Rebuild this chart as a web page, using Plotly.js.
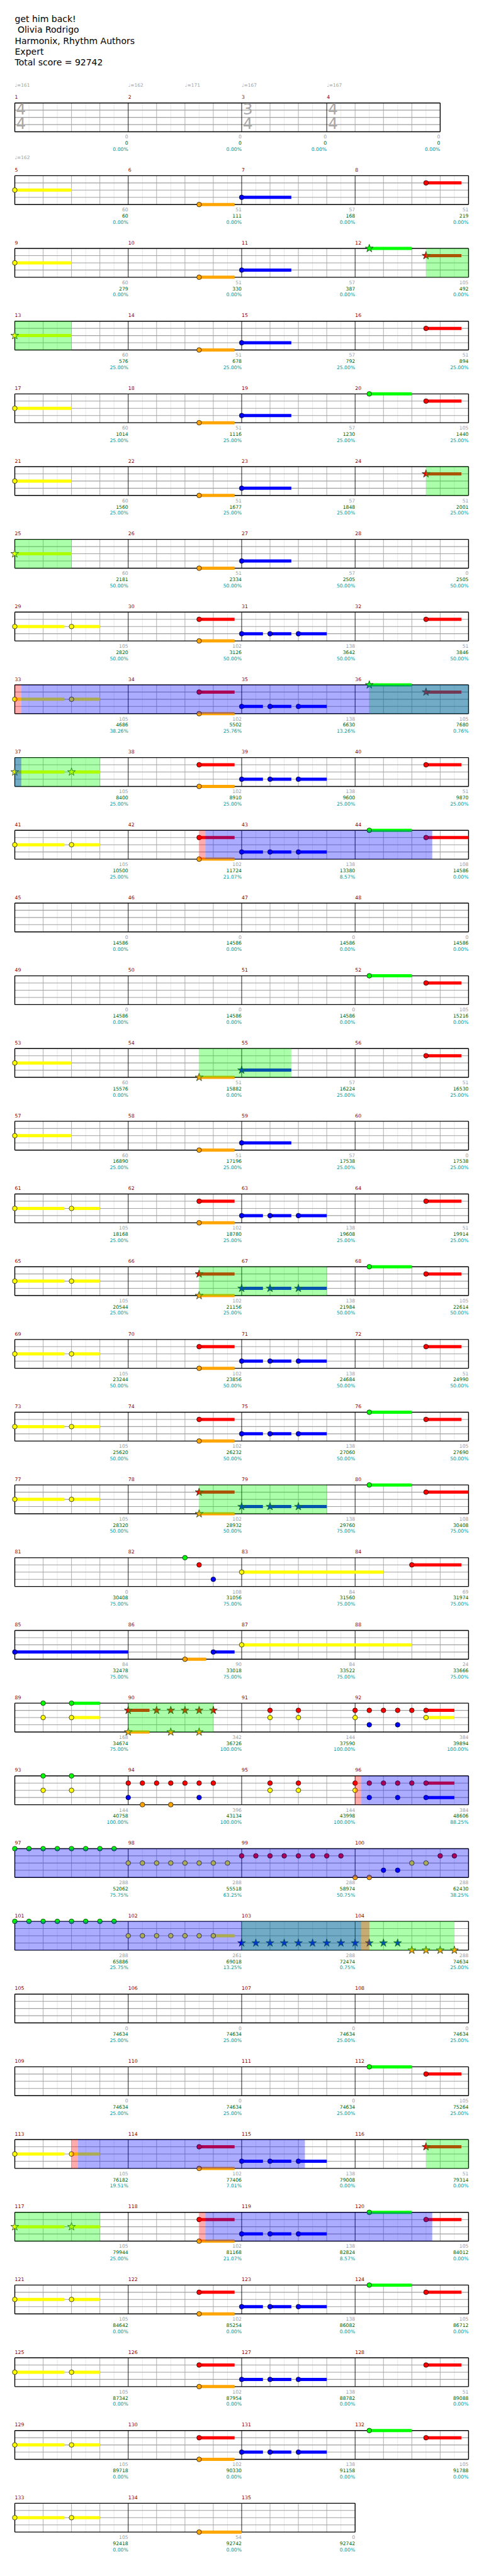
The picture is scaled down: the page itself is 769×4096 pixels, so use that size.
<!DOCTYPE html>
<html><head><meta charset="utf-8">
<script src="https://cdn.plot.ly/plotly-3.0.1.min.js"></script>
<style>html,body{margin:0;padding:0;background:#fff;overflow:hidden}#chart{width:769px;height:4096px}</style>
</head><body><div id="chart"></div>
<script>
// ---------------- DATA ----------------
const titleLines = ["get him back!", " Olivia Rodrigo", "Harmonix, Rhythm Authors", "Expert", "Total score = 92742"];
const measureCount = 135;
// [measure, numerator, denominator]
const timeSigs = [[1,4,4],[3,3,4],[4,4,4]];
// [measure, beat, bpm]
const tempos = [[1,0,161],[2,0,162],[2,2,171],[3,0,167],[4,0,167],[5,0,162]];
const laneNames = ["green","red","yellow","blue","orange"];
const measureScores = [
0,0,0,0, 60,51,57,51, 60,51,57,105, 60,51,57,51, 60,51,57,105, 60,51,57,51, 60,51,57,0,
105,102,138,51, 105,102,138,105, 105,102,138,51, 105,102,138,108, 0,0,0,0, 0,0,0,105,
60,51,57,51, 60,51,57,0, 105,102,138,51, 105,102,138,105, 105,102,138,51, 105,102,138,105,
105,102,138,108, 0,108,84,69, 84,90,84,24, 168,342,144,384, 144,396,144,384, 288,288,288,288,
288,261,288,288, 0,0,0,0, 0,0,0,105, 105,102,138,51, 105,102,138,105, 105,102,138,105,
105,102,138,51, 105,102,138,105, 105,54,0];
const totalScores = [
0,0,0,0, 60,111,168,219, 279,330,387,492, 576,678,792,894, 1014,1116,1230,1440,
1560,1677,1848,2001, 2181,2334,2505,2505, 2820,3126,3642,3846, 4686,5502,6630,7680,
8400,8910,9600,9870, 10500,11724,13380,14586, 14586,14586,14586,14586, 14586,14586,14586,15216,
15576,15882,16224,16530, 16890,17196,17538,17538, 18168,18780,19608,19914, 20544,21156,21984,22614,
23244,23856,24684,24990, 25620,26232,27060,27690, 28320,28932,29760,30408, 30408,31056,31560,31974,
32478,33018,33522,33666, 34674,36726,37590,39894, 40758,43134,43998,48606, 52062,55518,58974,62430,
65886,69018,72474,74634, 74634,74634,74634,74634, 74634,74634,74634,75264, 76182,77406,79008,79314,
79944,81168,82824,84012, 84642,85254,86082,86712, 87342,87954,88782,89088, 89718,90330,91158,91788,
92418,92742,92742];
const percents = [
0,0,0,0, 0,0,0,0, 0,0,0,0, 25,25,25,25, 25,25,25,25, 25,25,25,25, 50,50,50,50,
50,50,50,50, 38.26,25.76,13.26,0.76, 25,25,25,25, 25,21.07,8.57,0, 0,0,0,0, 0,0,0,0,
0,0,25,25, 25,25,25,25, 25,25,25,25, 25,25,50,50, 50,50,50,50, 50,50,50,50,
50,50,75,75, 75,75,75,75, 75,75,75,75, 75,100,100,100, 100,100,100,88.25, 75.75,63.25,50.75,38.25,
25.75,13.25,0.75,25, 25,25,25,25, 25,25,25,25, 19.51,7.01,0,0, 25,21.07,8.57,0,
0,0,0,0, 0,0,0,0, 0,0,0,0, 0,0,0];
// notes: [measure, beat, lane(0 G,1 R,2 Y,3 B,4 O), sustain beats, star-power note]
const notes = [
[5,0,2,2,0],[6,2.5,4,1.25,0],[7,0,3,1.75,0],[8,2.5,1,1.25,0],
[9,0,2,2,0],[10,2.5,4,1.25,0],[11,0,3,1.75,0],[12,0.5,0,1.5,1],[12,2.5,1,1.25,1],
[13,0,2,2,1],[14,2.5,4,1.25,0],[15,0,3,1.75,0],[16,2.5,1,1.25,0],
[17,0,2,2,0],[18,2.5,4,1.25,0],[19,0,3,1.75,0],[20,0.5,0,1.5,0],[20,2.5,1,1.25,0],
[21,0,2,2,0],[22,2.5,4,1.25,0],[23,0,3,1.75,0],[24,2.5,1,1.25,1],
[25,0,2,2,1],[26,2.5,4,1.25,0],[27,0,3,1.75,0],
[29,0,2,1.75,0],[29,2,2,1,0],[30,2.5,1,1.25,0],[30,2.5,4,1.25,0],[31,0,3,0.75,0],[31,1,3,0.75,0],[31,2,3,1,0],[32,2.5,1,1.25,0],
[33,0,2,1.75,0],[33,2,2,1,0],[34,2.5,1,1.25,0],[34,2.5,4,1.25,0],[35,0,3,0.75,0],[35,1,3,0.75,0],[35,2,3,1,0],[36,0.5,0,1.5,1],[36,2.5,1,1.25,1],
[37,0,2,1.75,1],[37,2,2,1,1],[38,2.5,1,1.25,0],[38,2.5,4,1.25,0],[39,0,3,0.75,0],[39,1,3,0.75,0],[39,2,3,1,0],[40,2.5,1,1.25,0],
[41,0,2,1.75,0],[41,2,2,1,0],[42,2.5,1,1.25,0],[42,2.5,4,1.25,0],[43,0,3,0.75,0],[43,1,3,0.75,0],[43,2,3,1,0],[44,0.5,0,1.5,0],[44,2.5,1,1.5,0],
[52,0.5,0,1.5,0],[52,2.5,1,1.25,0],
[53,0,2,2,0],[54,2.5,4,1.25,1],[55,0,3,1.75,1],[56,2.5,1,1.25,0],
[57,0,2,2,0],[58,2.5,4,1.25,0],[59,0,3,1.75,0],
[61,0,2,1.75,0],[61,2,2,1,0],[62,2.5,1,1.25,0],[62,2.5,4,1.25,0],[63,0,3,0.75,0],[63,1,3,0.75,0],[63,2,3,1,0],[64,2.5,1,1.25,0],
[65,0,2,1.75,0],[65,2,2,1,0],[66,2.5,1,1.25,1],[66,2.5,4,1.25,1],[67,0,3,0.75,1],[67,1,3,0.75,1],[67,2,3,1,1],[68,0.5,0,1.5,0],[68,2.5,1,1.25,0],
[69,0,2,1.75,0],[69,2,2,1,0],[70,2.5,1,1.25,0],[70,2.5,4,1.25,0],[71,0,3,0.75,0],[71,1,3,0.75,0],[71,2,3,1,0],[72,2.5,1,1.25,0],
[73,0,2,1.75,0],[73,2,2,1,0],[74,2.5,1,1.25,0],[74,2.5,4,1.25,0],[75,0,3,0.75,0],[75,1,3,0.75,0],[75,2,3,1,0],[76,0.5,0,1.5,0],[76,2.5,1,1.25,0],
[77,0,2,1.75,0],[77,2,2,1,0],[78,2.5,1,1.25,1],[78,2.5,4,1.25,1],[79,0,3,0.75,1],[79,1,3,0.75,1],[79,2,3,1,1],[80,0.5,0,1.5,0],[80,2.5,1,1.5,0],
[82,2,0,0,0],[82,2.5,1,0,0],[82,3,3,0,0],[83,0,2,5,0],[84,2,1,1.75,0],
[85,0,3,4,0],[86,2,4,0.75,0],[86,3,3,0.75,0],[87,0,2,6,0],
[89,1,0,0,0],[89,1,2,0,0],[89,2,0,1,0],[89,2,2,1,0],
[90,0,1,0.75,1],[90,0,4,0.75,1],[90,1,1,0,1],[90,1.5,1,0,1],[90,1.5,4,0,1],[90,2,1,0,1],[90,2.5,1,0,1],[90,2.5,4,0,1],[90,3,1,0,1],
[91,1,1,0,0],[91,1,2,0,0],[91,2,1,0,0],[91,2,2,0,0],
[92,0,1,0,0],[92,0,2,0,0],[92,0.5,1,0,0],[92,0.5,3,0,0],[92,1,1,0,0],[92,1.5,1,0,0],[92,1.5,3,0,0],[92,2,1,0,0],[92,2.5,1,1,0],[92,2.5,2,1,0],
[93,1,0,0,0],[93,1,2,0,0],[93,2,0,0,0],[93,2,2,0,0],
[94,0,1,0,0],[94,0,3,0,0],[94,0.5,1,0,0],[94,0.5,4,0,0],[94,1,1,0,0],[94,1.5,1,0,0],[94,1.5,4,0,0],[94,2,1,0,0],[94,2.5,1,0,0],[94,2.5,3,0,0],[94,3,1,0,0],
[95,1,1,0,0],[95,1,2,0,0],[95,2,1,0,0],[95,2,2,0,0],
[96,0,1,0,0],[96,0,2,0,0],[96,0.5,1,0,0],[96,0.5,3,0,0],[96,1,1,0,0],[96,1.5,1,0,0],[96,1.5,3,0,0],[96,2,1,0,0],[96,2.5,1,1,0],[96,2.5,3,1,0],
[97,0,0,0,0],[97,0.5,0,0,0],[97,1,0,0,0],[97,1.5,0,0,0],[97,2,0,0,0],[97,2.5,0,0,0],[97,3,0,0,0],[97,3.5,0,0,0],
[98,0,2,0,0],[98,0.5,2,0,0],[98,1,2,0,0],[98,1.5,2,0,0],[98,2,2,0,0],[98,2.5,2,0,0],[98,3,2,0,0],[98,3.5,2,0,0],
[99,0,1,0,0],[99,0.5,1,0,0],[99,1,1,0,0],[99,1.5,1,0,0],[99,2,1,0,0],[99,2.5,1,0,0],[99,3,1,0,0],[99,3.5,1,0,0],
[100,0,4,0,0],[100,0.5,4,0,0],[100,1,3,0,0],[100,1.5,3,0,0],[100,2,2,0,0],[100,2.5,2,0,0],[100,3,1,0,0],[100,3.5,1,0,0],
[101,0,0,0,0],[101,0.5,0,0,0],[101,1,0,0,0],[101,1.5,0,0,0],[101,2,0,0,0],[101,2.5,0,0,0],[101,3,0,0,0],[101,3.5,0,0,0],
[102,0,2,0,0],[102,0.5,2,0,0],[102,1,2,0,0],[102,1.5,2,0,0],[102,2,2,0,0],[102,2.5,2,0,0],[102,3,2,0.75,0],
[103,0,3,0,1],[103,0.5,3,0,1],[103,1,3,0,1],[103,1.5,3,0,1],[103,2,3,0,1],[103,2.5,3,0,1],[103,3,3,0,1],[103,3.5,3,0,1],
[104,0,3,0,1],[104,0.5,3,0,1],[104,1,3,0,1],[104,1.5,3,0,1],[104,2,4,0,1],[104,2.5,4,0,1],[104,3,4,0,1],[104,3.5,4,0,1],
[112,0.5,0,1.5,0],[112,2.5,1,1.25,0],
[113,0,2,1.75,0],[113,2,2,1,0],[114,2.5,1,1.25,0],[114,2.5,4,1.25,0],[115,0,3,0.75,0],[115,1,3,0.75,0],[115,2,3,1,0],[116,2.5,1,1.25,1],
[117,0,2,1.75,1],[117,2,2,1,1],[118,2.5,1,1.25,0],[118,2.5,4,1.25,0],[119,0,3,0.75,0],[119,1,3,0.75,0],[119,2,3,1,0],[120,0.5,0,1.5,0],[120,2.5,1,1.25,0],
[121,0,2,1.75,0],[121,2,2,1,0],[122,2.5,1,1.25,0],[122,2.5,4,1.25,0],[123,0,3,0.75,0],[123,1,3,0.75,0],[123,2,3,1,0],[124,0.5,0,1.5,0],[124,2.5,1,1.25,0],
[125,0,2,1.75,0],[125,2,2,1,0],[126,2.5,1,1.25,0],[126,2.5,4,1.25,0],[127,0,3,0.75,0],[127,1,3,0.75,0],[127,2,3,1,0],[128,2.5,1,1.25,0],
[129,0,2,1.75,0],[129,2,2,1,0],[130,2.5,1,1.25,0],[130,2.5,4,1.25,0],[131,0,3,0.75,0],[131,1,3,0.75,0],[131,2,3,1,0],[132,0.5,0,1.5,0],[132,2.5,1,1.25,0],
[133,0,2,1.75,0],[133,2,2,1,0],[134,2.5,4,1.5,0]
];
// regions: [startMeasure, startBeat, endMeasure, endBeat]
const starPhrases = [[12,2.5,13,2],[24,2.5,25,2],[36,0.5,37,3],[54,2.5,55,1.75],[66,2.5,67,3],[78,2.5,79,3],[90,0,90,3],[103,0,104,3.5],[116,2.5,117,3]];
const starActive = [[33,0.23,37,0.23],[42,2.72,44,2.72],[96,0.22,104,0.22],[113,2.23,115,2.23],[118,2.72,120,2.72]];
const activations = [[33,0,33,0.23],[42,2.5,42,2.72],[96,0,96,0.22],[104,0.22,104,0.5],[113,2,113,2.23],[118,2.5,118,2.72]];

// ---------------- LAYOUT CONSTANTS (reference px) ----------------
const REF_W = 1024, REF_H = 5454, X0 = 31.3, BEAT = 60;
const ROW_TOP0 = 218, ROW_PITCH = 154, LANE = 15.25;
const laneColors = ["#00ff00","#ff0000","#ffff00","#0000ff","#ffa500"];
const FONT = "'DejaVu Sans',Verdana,sans-serif";

// measure geometry
const mBeats = [], mRow = [], mOff = [], rowWidth = [];
const tsMap = {}; timeSigs.forEach(t => tsMap[t[0]] = t);
let curBeats = 4;
for (let m = 1; m <= measureCount; m++) {
  if (tsMap[m]) curBeats = tsMap[m][1];
  mBeats[m] = curBeats;
  const r = Math.floor((m - 1) / 4);
  mRow[m] = r;
  mOff[m] = ((m - 1) % 4 === 0) ? 0 : mOff[m - 1] + mBeats[m - 1];
  rowWidth[r] = mOff[m] + curBeats;
}
const nRows = rowWidth.length;
const rowTop = r => ROW_TOP0 + ROW_PITCH * r;
const H = 4 * LANE;

function mk() { return {x: [], y: []}; }
function seg(a, x0, y0, x1, y1) { a.x.push(x0, x1, null); a.y.push(y0, y1, null); }

const light = mk(), beatL = mk(), laneL = mk(), measL = mk(), border = mk();
for (let r = 0; r < nRows; r++) {
  const T = rowTop(r), W = rowWidth[r];
  const starts = [];
  for (let m = 1; m <= measureCount; m++) if (mRow[m] === r) starts.push(mOff[m]);
  for (let b = 0.5; b < W; b += 1) seg(light, b, T, b, T + H);
  for (let b = 1; b < W; b++) if (starts.indexOf(b) < 0) seg(beatL, b, T, b, T + H);
  for (let i = 1; i <= 3; i++) seg(laneL, 0, T + i * LANE, W, T + i * LANE);
  starts.forEach(s => { if (s > 0) seg(measL, s, T, s, T + H); });
  seg(border, 0, T, W, T); seg(border, 0, T + H, W, T + H);
  seg(border, 0, T, 0, T + H); seg(border, W, T, W, T + H);
}

const traces = [];
function lineTrace(a, color, width) {
  traces.push({type: 'scatter', mode: 'lines', x: a.x, y: a.y, line: {color: color, width: width}, hoverinfo: 'skip', showlegend: false});
}
lineTrace(light, '#e2e2e2', 0.8);
lineTrace(beatL, '#a6a6a6', 0.9);
lineTrace(laneL, '#a0a0a0', 1.1);
lineTrace(measL, '#000000', 0.9);
lineTrace(border, '#000000', 1.4);

// sustains
const sus = laneNames.map(() => mk());
notes.forEach(n => {
  const [m, b, lane, len] = n;
  if (len <= 0) return;
  let r = mRow[m], x = mOff[m] + b, rem = len;
  while (rem > 1e-9 && r < nRows) {
    const end = Math.min(x + rem, rowWidth[r]);
    const y = rowTop(r) + lane * LANE;
    seg(sus[lane], x, y, end, y);
    rem -= (end - x); r++; x = 0;
  }
});
sus.forEach((a, i) => lineTrace(a, laneColors[i], 5));

// note heads
laneNames.forEach((name, lane) => {
  [0, 1].forEach(star => {
    const xs = [], ys = [];
    notes.forEach(n => { if (n[2] === lane && n[4] === star) { xs.push(mOff[n[0]] + n[1]); ys.push(rowTop(mRow[n[0]]) + lane * LANE); } });
    if (!xs.length) return;
    traces.push({type: 'scatter', mode: 'markers', x: xs, y: ys, hoverinfo: 'skip', showlegend: false,
      marker: star ? {symbol: 'star', size: 9.5, color: laneColors[lane], line: {color: '#1a3a1a', width: 0.8}}
                   : {symbol: 'circle', size: 7.5, color: laneColors[lane], line: {color: '#000', width: 0.7}}});
  });
});

// texts
function textTrace(xs, ys, texts, pos, color, size) {
  traces.push({type: 'scatter', mode: 'text', x: xs, y: ys, text: texts, textposition: pos, cliponaxis: false,
    textfont: {family: FONT, size: size, color: color}, hoverinfo: 'skip', showlegend: false});
}
// title
textTrace(titleLines.map(() => 0), titleLines.map((t, i) => 42 + 23 * i), titleLines, 'middle right', '#000', 14);
// tempo
textTrace(tempos.map(t => mOff[t[0]] + t[1]), tempos.map(t => rowTop(mRow[t[0]]) - 37), tempos.map(t => '\u2669=' + t[2]), 'middle right', '#a0a0a0', 7.5);
// time signatures
const tsx = [], tsy = [], tst = [];
timeSigs.forEach(t => { const T = rowTop(mRow[t[0]]); tsx.push(mOff[t[0]] + 0.04, mOff[t[0]] + 0.04); tsy.push(T + 16, T + 46); tst.push(String(t[1]), String(t[2])); });
textTrace(tsx, tsy, tst, 'middle right', '#a8a8a8', 25);
// measure numbers and scores
const mx = [], my = [], mt = [], ex = [], g1 = [], g2 = [], g3 = [], s1 = [], s2 = [], s3 = [];
for (let m = 1; m <= measureCount; m++) {
  const T = rowTop(mRow[m]);
  mx.push(mOff[m]); my.push(T - 11); mt.push(String(m));
  ex.push(mOff[m] + mBeats[m]);
  g1.push(T + 73); g2.push(T + 86); g3.push(T + 99);
  s1.push(String(measureScores[m - 1])); s2.push(String(totalScores[m - 1])); s3.push(percents[m - 1].toFixed(2) + '%');
}
textTrace(mx, my, mt, 'middle right', '#8b0000', 7.8);
textTrace(ex, g1, s1, 'middle left', '#a0a0a0', 7.7);
textTrace(ex, g2, s2, 'middle left', '#006400', 7.7);
textTrace(ex, g3, s3, 'middle left', '#009999', 7.7);

// region overlays
const shapes = [];
function addRegion(reg, color) {
  const [m0, b0, m1, b1] = reg;
  const r0 = mRow[m0], r1 = mRow[m1];
  for (let r = r0; r <= r1; r++) {
    const xa = r === r0 ? mOff[m0] + b0 : 0;
    const xb = r === r1 ? mOff[m1] + b1 : rowWidth[r];
    if (xb > xa) shapes.push({type: 'rect', xref: 'x', yref: 'y', x0: xa, x1: xb, y0: rowTop(r), y1: rowTop(r) + H,
      fillcolor: color, line: {width: 0}, layer: 'above'});
  }
}
starPhrases.forEach(r => addRegion(r, 'rgba(0,255,0,0.33)'));
starActive.forEach(r => addRegion(r, 'rgba(0,0,255,0.33)'));
activations.forEach(r => addRegion(r, 'rgba(255,0,0,0.33)'));

const layout = {
  width: 769, height: 4096, margin: {l: 0, r: 0, t: 0, b: 0}, paper_bgcolor: '#fff', plot_bgcolor: '#fff',
  xaxis: {range: [-X0 / BEAT, (REF_W - X0) / BEAT], visible: false, fixedrange: true},
  yaxis: {range: [REF_H, 0], visible: false, fixedrange: true},
  showlegend: false, hovermode: false, shapes: shapes
};
Plotly.newPlot('chart', traces, layout, {staticPlot: true, displayModeBar: false});
</script></body></html>
